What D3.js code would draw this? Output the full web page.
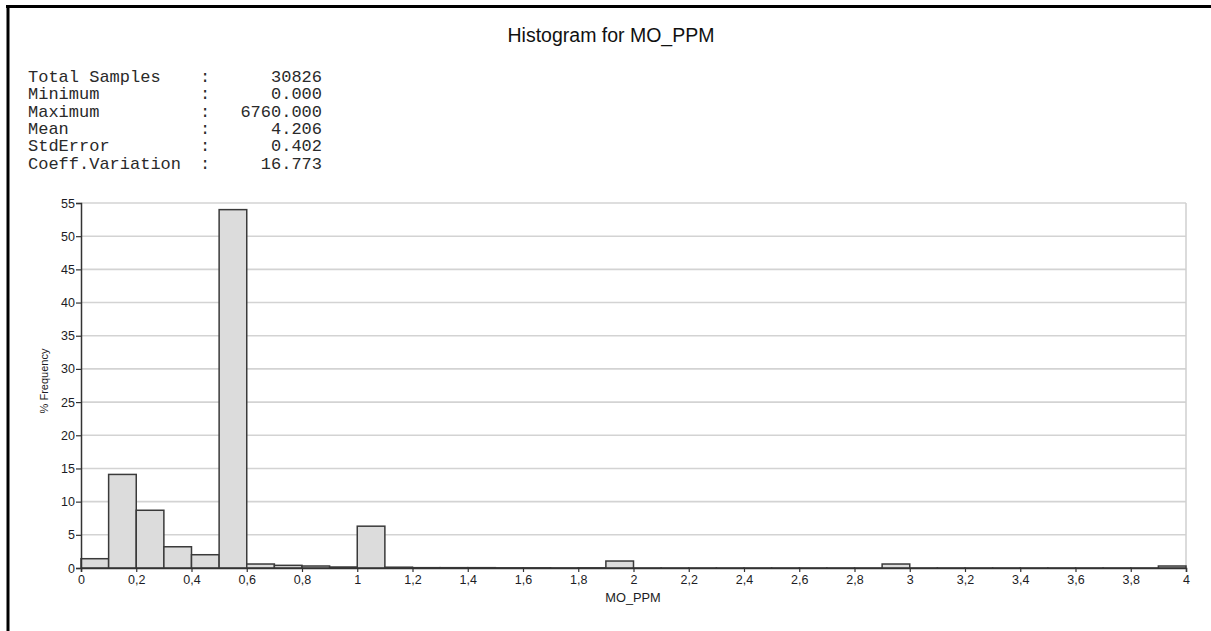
<!DOCTYPE html>
<html>
<head>
<meta charset="utf-8">
<script src="https://cdn.jsdelivr.net/npm/d3@7"></script>
<style>
  html, body { margin: 0; padding: 0; background: #fff; }
  svg { display: block; }
</style>
</head>
<body>
<svg id="chart" width="1211" height="631"></svg>
<script>
// Summary statistics block
const statLabels = ["Total Samples", "Minimum", "Maximum", "Mean", "StdError", "Coeff.Variation"];
const statValues = ["30826", "0.000", "6760.000", "4.206", "0.402", "16.773"];

// Histogram bins (lower edge, width 0.1) and % frequency per bin
const binStarts = [0.0, 0.1, 0.2, 0.3, 0.4, 0.5, 0.6, 0.7, 0.8, 0.9,
                   1.0, 1.1, 1.2, 1.3, 1.4, 1.5, 1.6, 1.7, 1.8, 1.9,
                   2.0, 2.1, 2.2, 2.3, 2.4, 2.5, 2.6, 2.7, 2.8, 2.9,
                   3.0, 3.1, 3.2, 3.3, 3.4, 3.5, 3.6, 3.7, 3.8, 3.9];
const frequency = [1.4, 14.1, 8.7, 3.2, 2.0, 54.0, 0.6, 0.4, 0.3, 0.15,
                   6.3, 0.12, 0.05, 0.05, 0.05, 0.03, 0.03, 0.02, 0.03, 1.05,
                   0.01, 0.01, 0.01, 0.01, 0.01, 0.01, 0.01, 0.01, 0.01, 0.6,
                   0.01, 0.01, 0.01, 0.01, 0.01, 0.01, 0.01, 0.01, 0.01, 0.3];
const binWidth = 0.1;

// Axis ticks
const xTicks = [0, 0.2, 0.4, 0.6, 0.8, 1, 1.2, 1.4, 1.6, 1.8, 2, 2.2, 2.4, 2.6, 2.8, 3, 3.2, 3.4, 3.6, 3.8, 4];
const yTicks = [0, 5, 10, 15, 20, 25, 30, 35, 40, 45, 50, 55];

const titleText = "Histogram for MO_PPM";
const xTitle = "MO_PPM";
const yTitle = "% Frequency";

const svg = d3.select("#chart");
const W = 1211, H = 631;
const plot = { left: 81, right: 1186, top: 203, bottom: 568 };

const x = d3.scaleLinear().domain([0, 4]).range([plot.left, plot.right]);
const y = d3.scaleLinear().domain([0, 55]).range([plot.bottom, plot.top]);

const sans = "Arial, 'Liberation Sans', sans-serif";
const mono = "'Courier New', 'Liberation Mono', monospace";
const labelColor = "#1c1c24";

// Page frame: heavy rule on top and left
svg.append("rect").attr("x", 0).attr("y", 0).attr("width", W).attr("height", H).attr("fill", "#fff");
svg.append("line").attr("x1", 6).attr("x2", W).attr("y1", 6.5).attr("y2", 6.5)
  .attr("stroke", "#000").attr("stroke-width", 3);
svg.append("line").attr("x1", 8).attr("x2", 8).attr("y1", 5).attr("y2", H)
  .attr("stroke", "#000").attr("stroke-width", 3);

// Title
svg.append("text").attr("x", 611).attr("y", 41.5)
  .attr("text-anchor", "middle").attr("font-family", sans).attr("font-size", 19.5)
  .attr("fill", "#111").text(titleText);

// Stats block
const stats = svg.append("g").attr("font-family", mono).attr("font-size", 17).attr("fill", "#2a2a2a");
statLabels.forEach((lab, i) => {
  const by = 82 + i * 17.3;
  stats.append("text").attr("x", 28).attr("y", by).text(lab);
  stats.append("text").attr("x", 200).attr("y", by).text(":");
  stats.append("text").attr("x", 322).attr("y", by).attr("text-anchor", "end").text(statValues[i]);
});

// Horizontal gridlines
svg.append("g").selectAll("line").data(yTicks.filter(d => d > 0)).join("line")
  .attr("x1", plot.left).attr("x2", plot.right)
  .attr("y1", d => y(d)).attr("y2", d => y(d))
  .attr("stroke", "#d3d3d3").attr("stroke-width", 1.6);

// Right edge of plot area
svg.append("line").attr("x1", plot.right).attr("x2", plot.right)
  .attr("y1", plot.top).attr("y2", plot.bottom)
  .attr("stroke", "#cfcfcf").attr("stroke-width", 1.5);

// Bars
svg.append("g").selectAll("rect").data(binStarts).join("rect")
  .attr("x", d => x(d))
  .attr("width", d => x(d + binWidth) - x(d))
  .attr("y", (d, i) => y(frequency[i]))
  .attr("height", (d, i) => y(0) - y(frequency[i]))
  .attr("fill", "#dcdcdc")
  .attr("stroke", "#3a3a3a")
  .attr("stroke-width", 1.5);

// Y axis
const yAxis = svg.append("g").attr("transform", `translate(${plot.left},0)`)
  .call(d3.axisLeft(y).tickValues(yTicks).tickSize(5).tickPadding(1).tickFormat(d3.format("d")));
yAxis.select(".domain").attr("stroke", "#333").attr("stroke-width", 1.5);
yAxis.selectAll(".tick line").attr("stroke", "#333").attr("stroke-width", 1.2);
yAxis.selectAll("text").attr("font-family", sans).attr("font-size", 12.5).attr("fill", labelColor);

// X axis
const commaFmt = d => String(d).replace(".", ",");
const xAxis = svg.append("g").attr("transform", `translate(0,${plot.bottom})`)
  .call(d3.axisBottom(x).tickValues(xTicks).tickSize(4).tickPadding(3).tickFormat(commaFmt));
xAxis.select(".domain").attr("stroke", "#333").attr("stroke-width", 1.5);
xAxis.selectAll(".tick line").attr("stroke", "#333").attr("stroke-width", 1.2);
xAxis.selectAll("text").attr("font-family", sans).attr("font-size", 12.5).attr("fill", labelColor);

// Axis titles
svg.append("text").attr("x", 633).attr("y", 601.5)
  .attr("text-anchor", "middle").attr("font-family", sans).attr("font-size", 12.8)
  .attr("fill", labelColor).text(xTitle);
svg.append("text").attr("transform", "translate(47.5,381) rotate(-90)")
  .attr("text-anchor", "middle").attr("font-family", sans).attr("font-size", 11)
  .attr("fill", labelColor).text(yTitle);
</script>
</body>
</html>
